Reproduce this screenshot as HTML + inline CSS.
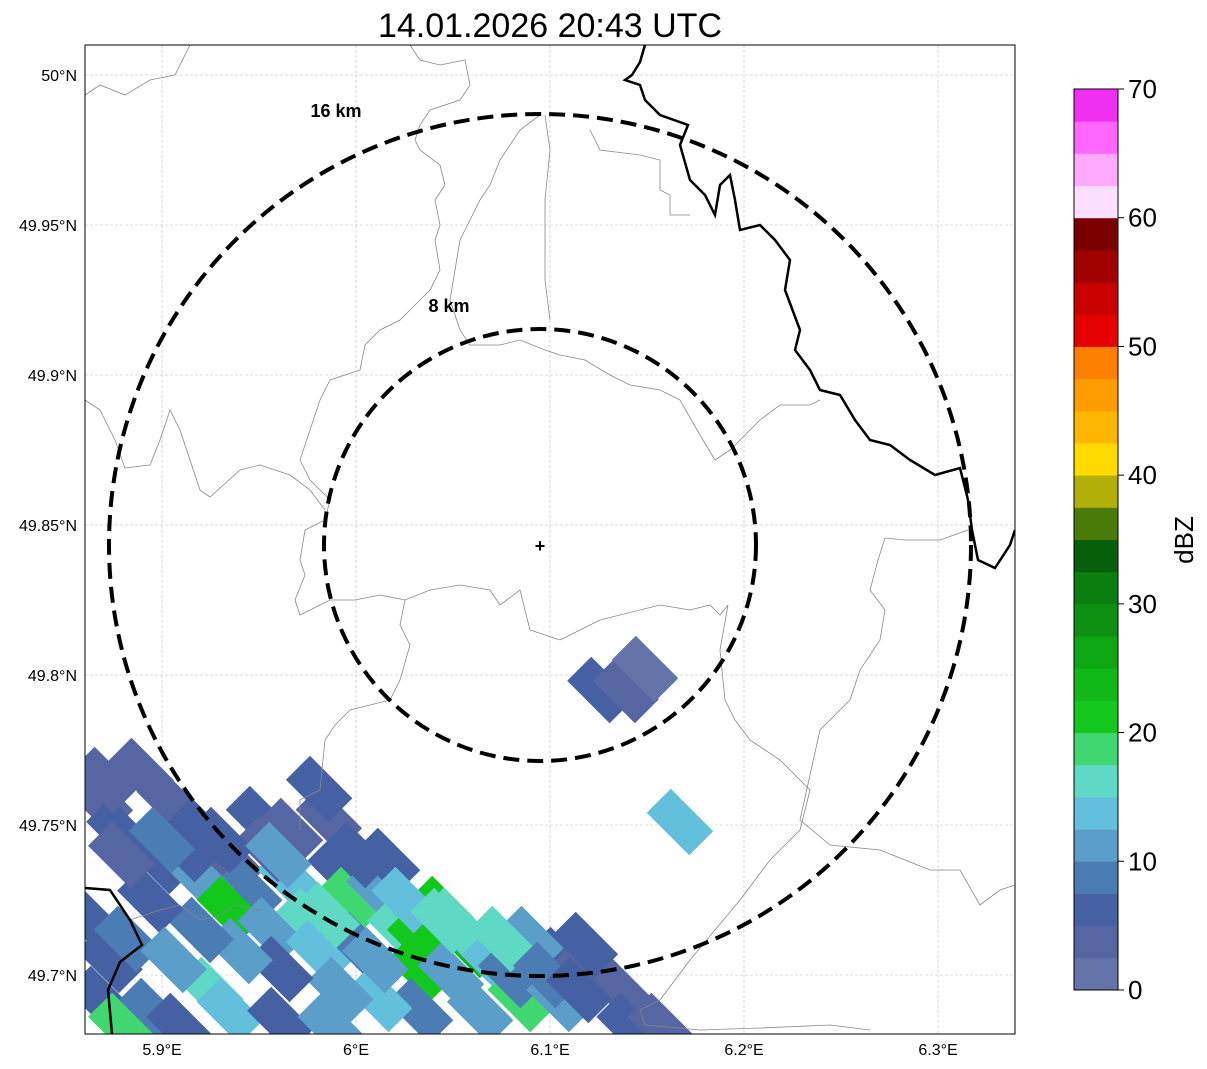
<!DOCTYPE html>
<html><head><meta charset="utf-8">
<style>
body{margin:0;background:#fff;font-family:"Liberation Sans",sans-serif;}
svg{display:block}
</style></head>
<body>
<svg id="chart" width="1207" height="1069" xmlns="http://www.w3.org/2000/svg">
<text x="550" y="37" font-size="34" text-anchor="middle">14.01.2026 20:43 UTC</text>
<defs><clipPath id="clip"><rect x="85" y="45" width="930" height="989"/></clipPath></defs>
<g id="grid"></g>
<g id="echoes" clip-path="url(#clip)"></g>
<g clip-path="url(#clip)">
<polyline fill="none" stroke="#888" stroke-width="0.8" points="85,95 100,85 125,95 150,80 175,75 190,45"/>
<polyline fill="none" stroke="#888" stroke-width="0.8" points="410,45 420,60 440,65 465,60 470,85 460,100 430,110 420,125 415,140 420,150 440,165 445,185 435,200 440,225 435,240 440,270 430,290 420,300 400,320 380,330 365,345 360,370 330,380 320,400 310,430 300,460 310,480 330,500 325,520 305,530 300,560 305,575 295,600 300,615 330,600 355,600 380,595 405,600 430,590 460,585 490,590 500,605 520,590 530,630 560,640 600,620 640,610 660,605 690,610 710,605 720,615 728,605"/>
<polyline fill="none" stroke="#888" stroke-width="0.8" points="85,400 100,410 115,440 125,468 150,465 160,440 170,410 180,430 190,460 200,490 210,497 240,470 260,465 290,475 310,490 325,510"/>
<polyline fill="none" stroke="#888" stroke-width="0.8" points="540,115 520,130 500,160 490,185 480,200 470,220 460,240 450,300 460,330 470,345 500,345 520,340 545,350 560,355 585,360 610,375 630,385 660,390 680,400 700,435 715,460 730,450 760,420 780,405 810,405 820,400"/>
<polyline fill="none" stroke="#888" stroke-width="0.8" points="545,115 550,150 545,200 545,230 545,280 550,320"/>
<polyline fill="none" stroke="#888" stroke-width="0.8" points="590,130 600,150 640,155 660,160 660,190 670,195 670,215 690,215"/>
<polyline fill="none" stroke="#888" stroke-width="0.8" points="405,600 400,625 410,645 400,680 390,700 370,705 350,710 335,725 325,740 320,790 300,800 300,830"/>
<polyline fill="none" stroke="#888" stroke-width="0.8" points="728,605 720,650 725,700 735,720 750,740 780,760 810,790 800,830 770,860 740,900 690,960 660,1000 640,1010 645,1025 700,1030 760,1028 830,1025 870,1030"/>
<polyline fill="none" stroke="#888" stroke-width="0.8" points="968,530 940,540 905,540 885,538 878,560 870,590 885,610 880,640 860,670 850,700 820,730 800,820 830,845 880,850 930,870 960,870 980,905 1000,890 1015,885"/>
<polyline fill="none" stroke="#888" stroke-width="0.8" points="130,920 160,910 180,905 200,920 220,915 235,905 260,910"/>
</g>
<g clip-path="url(#clip)">
<polyline fill="none" stroke="#000" stroke-width="2.5" points="645,45 640,62 632,75 625,80 640,85 645,100 660,115 688,125 680,145 690,180 705,195 715,215 720,185 730,175 735,200 740,230 760,225 775,240 790,260 785,290 800,330 795,350 810,370 820,390 840,395 855,420 870,440 890,445 910,460 935,475 960,468 968,500 972,530 978,560 995,568 1010,545 1015,530"/>
<polyline fill="none" stroke="#000" stroke-width="2.5" points="85,888 110,890 130,920 142,945 120,962 108,990 112,1034"/>
</g>
<g>
<ellipse cx="540" cy="545" rx="216" ry="216" fill="none" stroke="#000" stroke-width="4" stroke-dasharray="16,8"/>
<ellipse cx="540" cy="545" rx="431" ry="431" fill="none" stroke="#000" stroke-width="4" stroke-dasharray="16,8"/>
<text x="449" y="312" font-size="18" font-weight="bold" text-anchor="middle">8 km</text>
<text x="336" y="117" font-size="18" font-weight="bold" text-anchor="middle">16 km</text>
<text x="540" y="552" font-size="18" font-weight="bold" text-anchor="middle">+</text>
</g>
<rect x="85" y="45" width="930" height="989" fill="none" stroke="#000" stroke-width="1"/>
<g id="ticks" font-size="16"></g>
<g id="cbar"></g>
<text transform="translate(1193,540) rotate(-90)" font-size="26" text-anchor="middle">dBZ</text>
</svg>
<script>
const lonTicks=[5.9,6.0,6.1,6.2,6.3];
const lonLabels=["5.9°E","6°E","6.1°E","6.2°E","6.3°E"];
const latTicks=[50.0,49.95,49.9,49.85,49.8,49.75,49.7];
const latLabels=["50°N","49.95°N","49.9°N","49.85°N","49.8°N","49.75°N","49.7°N"];
const cellLon=[5.868,5.889,5.878,5.904,5.920,5.899,5.935,5.950,5.966,5.986,5.945,5.920,5.966,5.992,5.935,5.956,5.976,5.997,6.012,5.981,6.001,6.023,6.033,6.044,6.059,6.033,6.049,6.069,6.085,6.080,6.105,6.120,6.136,6.105,6.064,6.033,6.012,5.992,5.961,5.940,5.920,5.873,5.868,5.894,5.925,5.935,5.909,5.879,5.961,5.987,6.141,6.157,6.126,6.139,6.149,6.167,5.981,5.865,5.882,5.894,5.879,5.912,6.016,6.050,6.090,6.118,5.955,5.906,5.870,5.900,5.930,5.960,6.000,6.025,6.045,6.075,6.098,6.115,5.985,6.010];
const cellLat=[49.758,49.768,49.748,49.758,49.748,49.738,49.738,49.752,49.748,49.752,49.728,49.732,49.732,49.735,49.722,49.715,49.718,49.725,49.728,49.708,49.710,49.715,49.712,49.722,49.710,49.702,49.700,49.705,49.692,49.700,49.705,49.702,49.695,49.692,49.688,49.688,49.692,49.695,49.702,49.708,49.715,49.705,49.692,49.688,49.695,49.688,49.683,49.683,49.685,49.683,49.683,49.683,49.795,49.795,49.802,49.751,49.762,49.717,49.712,49.725,49.740,49.742,49.738,49.718,49.712,49.710,49.742,49.705,49.765,49.745,49.745,49.740,49.740,49.725,49.718,49.712,49.700,49.695,49.720,49.705];
const cellDbz=[4,3,5,3,6,5,4,5,3,4,9,10,14,6,20,12,17,18,10,13,9,15,22,21,23,21,11,13,19,8,5,4,3,10,12,9,14,11,7,12,8,5,6,9,17,14,5,18,6,10,6,4,5,3,2,13,5,5,9,6,4,7,5,16,12,6,4,11,3,8,7,12,6,13,17,16,9,5,15,12];
const bandColors=["#6474a8","#5566a2","#4560a3","#4b7cb3","#5a9ec9","#63c0dc","#5fd8c6","#40d670","#12c81c","#10b818","#0fa614","#0c9012","#0b7e10","#065f0a","#4a7a08","#b0b008","#ffda00","#ffb600","#ff9c00","#ff7f00","#e60000","#c80000","#a00000","#7a0000","#ffdfff","#ffaaff","#ff66ff","#f030f0"];
const cbTicks=[0,10,20,30,40,50,60,70];
const NS="http://www.w3.org/2000/svg";
const xOf=lon=>162+(lon-5.9)*1940;
const yOf=lat=>525-(lat-49.85)*3000;
const cbY=v=>990-(v/70)*901;
function mk(tag,attrs,parent){const e=document.createElementNS(NS,tag);for(const k in attrs)e.setAttribute(k,attrs[k]);parent.appendChild(e);return e;}
const grid=document.getElementById('grid'),ticks=document.getElementById('ticks');
lonTicks.forEach((v,i)=>{const x=xOf(v);
 const l=mk('line',{x1:x,x2:x,y1:45,y2:1034,stroke:'#bbb','stroke-width':0.6,'stroke-dasharray':'3,2'},grid);
 
 const t=mk('text',{x:x,y:1055,'text-anchor':'middle'},ticks);t.textContent=lonLabels[i];
 });
latTicks.forEach((v,i)=>{const y=yOf(v);
 const l=mk('line',{x1:85,x2:1015,y1:y,y2:y,stroke:'#bbb','stroke-width':0.6,'stroke-dasharray':'3,2'},grid);
 
 const t=mk('text',{x:77,y:y+6,'text-anchor':'end'},ticks);t.textContent=latLabels[i];
 });
const ech=document.getElementById('echoes');
cellLon.forEach((lon,i)=>{const x=xOf(lon),y=yOf(cellLat[i]);const d=cellDbz[i];
 const c=bandColors[Math.min(27,Math.floor(d/2.5))];
 const r=mk('rect',{x:x-30,y:y-17,width:60,height:34,fill:c,transform:`rotate(45 ${x} ${y})`},ech);
 });
const cb=document.getElementById('cbar');
bandColors.forEach((c,i)=>{const y1=cbY((i+1)*2.5),y0=cbY(i*2.5);
 const r=mk('rect',{x:1074,y:y1,width:44,height:y0-y1+0.5,fill:c},cb);
 });
const fr=mk('rect',{x:1074,y:89,width:44,height:901,fill:'none',stroke:'#000','stroke-width':1},cb);

cbTicks.forEach(v=>{const y=cbY(v);
 mk('line',{x1:1118,x2:1124,y1:y,y2:y,stroke:'#000'},cb);
 const t=mk('text',{x:1128,y:y+9,'font-size':26},cb);t.textContent=v;
 });
</script>
</body></html>
